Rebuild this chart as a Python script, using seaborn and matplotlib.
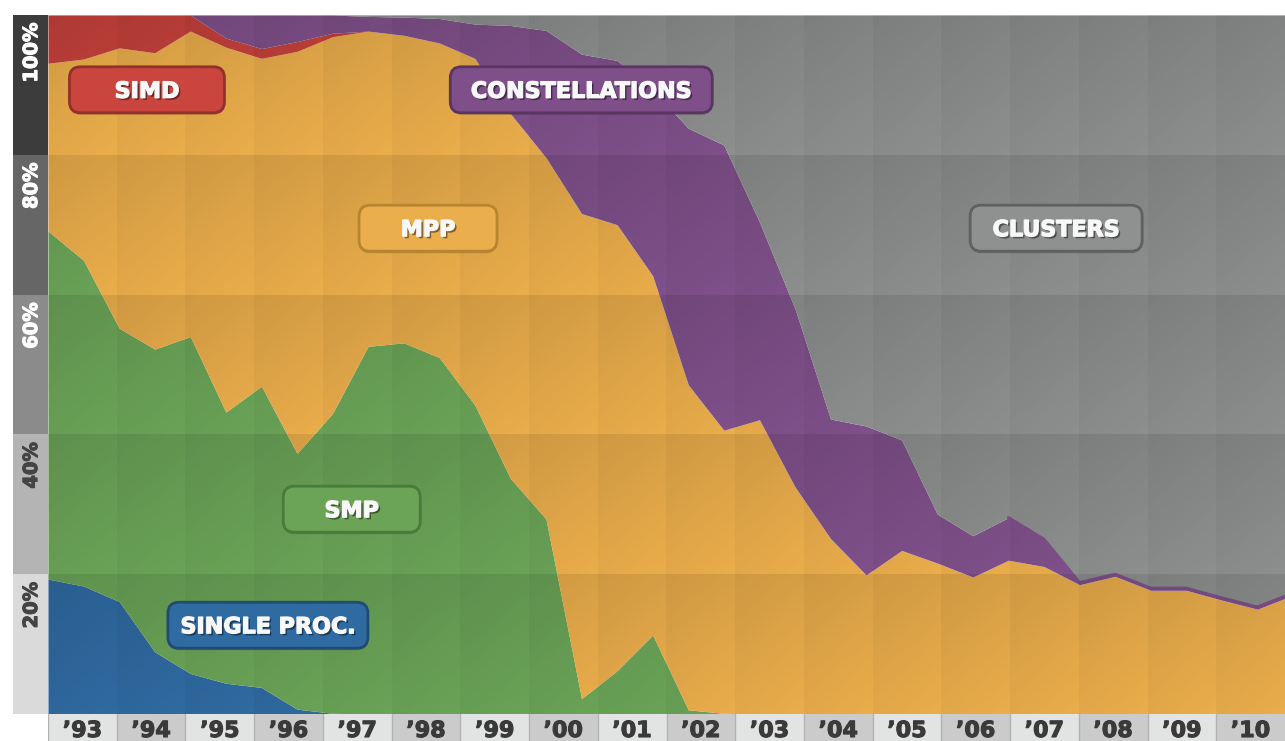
import numpy as np
import matplotlib
matplotlib.use("Agg")
import matplotlib.pyplot as plt
import matplotlib.patheffects as pe
from matplotlib.patches import FancyBboxPatch, Rectangle
from matplotlib.transforms import IdentityTransform
import seaborn as sns

# share of systems (%) per TOP500 list, June 1993 onwards
single_proc = [19.3, 18.3, 16.1, 8.9, 5.8, 4.4, 3.8, 0.7, 0.1, 0, 0, 0,
               0, 0, 0, 0, 0, 0, 0, 0, 0, 0, 0, 0,
               0, 0, 0, 0, 0, 0, 0, 0, 0, 0, 0, 0]
smp = [49.8, 46.6, 39.1, 43.3, 48.2, 38.8, 43.1, 36.6, 42.9, 52.6, 53.1, 51.0,
       44.2, 33.7, 27.9, 2.2, 6.2, 11.3, 0.6, 0.1, 0, 0, 0, 0,
       0, 0, 0, 0, 0, 0, 0, 0, 0, 0, 0, 0]
mpp = [24.0, 28.8, 40.1, 42.4, 43.7, 52.2, 46.9, 57.5, 53.9, 45.1, 44.0, 45.0,
       49.6, 52.2, 51.7, 69.4, 63.8, 51.4, 46.5, 40.5, 42.1, 32.5, 25.1, 19.9,
       23.4, 21.6, 19.6, 22.0, 21.1, 18.5, 19.7, 17.7, 17.7, 16.3, 15.0, 17.0]
simd = [6.9, 6.3, 4.7, 5.4, 2.3, 1.3, 1.4, 1.4, 0.5, 0, 0, 0,
        0, 0, 0, 0, 0, 0, 0, 0, 0, 0, 0, 0,
        0, 0, 0, 0, 0, 0, 0, 0, 0, 0, 0, 0]
constellations = [0, 0, 0, 0, 0, 3.3, 4.8, 3.8, 2.6, 2.1, 2.6, 3.5,
                  4.9, 12.6, 18.2, 22.8, 23.5, 26.6, 36.7, 40.8, 28.3, 25.5, 17.1, 21.3,
                  15.8, 7.0, 5.9, 6.1, 3.9, 0.3, 0.3, 0.3, 0.3, 0.3, 0.3, 0.3]
clusters = [0, 0, 0, 0, 0, 0, 0, 0, 0, 0.2, 0.3, 0.5,
            1.3, 1.5, 2.2, 5.6, 6.5, 10.7, 16.2, 18.6, 29.6, 42.0, 57.8, 58.8,
            60.8, 71.4, 74.5, 71.9, 75.0, 81.2, 80.0, 82.0, 82.0, 83.4, 84.7, 82.7]

years = list(range(1993, 2011))
year_labels = ["\u2019%02d" % (y % 100) for y in years]
pct_labels = ["20%", "40%", "60%", "80%", "100%"]

# list positions along the year axis
list_x = 1993 + np.arange(len(mpp)) * 0.5176

colors = {
    "blue": "#2f6aa1", "green": "#6aa357", "orange": "#eaad4b",
    "red": "#c5413b", "purple": "#7f508a", "gray": "#8d8f8f",
}

sns.set_theme(style="white")
plt.rcParams["font.family"] = ["DejaVu Sans"]

W, H = 1285, 741
fig = plt.figure(figsize=(W / 100, H / 100), dpi=100)
fig.patch.set_facecolor("white")

ax = fig.add_axes([48 / W, 27 / H, 1237 / W, 699 / H])
ax.set_xlim(1993, 2011)
ax.set_ylim(0, 100)
ax.axis("off")

palette = sns.color_palette([colors[c] for c in ["blue", "green", "orange", "red", "purple", "gray"]])
ax.stackplot(list_x, single_proc, smp, mpp, simd, constellations, clusters,
             colors=palette, linewidth=0, zorder=2)

# thin constellations stroke where the share is tiny
const_top = np.cumsum([single_proc, smp, mpp, simd, constellations], axis=0)[-1]
sns.lineplot(x=list_x[27:], y=const_top[27:], color=colors["purple"], lw=2.2, ax=ax, zorder=3)

# shaded grid: each band darker at top, each year column darker at left
cw, ch = 64, 80
fx = (np.arange(cw * len(years)) % cw) / (cw - 1)
fy = (np.arange(ch * 5) % ch) / (ch - 1)
alpha = 0.085 * (1 - fy)[:, None] + 0.035 * (1 - fx)[None, :]
shade = np.zeros(alpha.shape + (4,))
shade[..., 3] = alpha
ax.imshow(shade, extent=(1993, 2011, 0, 100), aspect="auto", interpolation="nearest", zorder=4)

# y strip
ay = fig.add_axes([13 / W, 27 / H, 35 / W, 699 / H])
ay.set_xlim(0, 1)
ay.set_ylim(0, 100)
ay.axis("off")
band_colors = ["#dadada", "#b4b4b4", "#8b8b8b", "#666666", "#3c3c3c"]
text_colors = ["#444444", "#444444", "white", "white", "white"]
for i, lab in enumerate(pct_labels):
    ay.add_patch(Rectangle((0, i * 20), 1, 20, color=band_colors[i], lw=0))
    ay.text(0.53, (i + 1) * 20 - 1.1, lab, rotation=90, ha="center", va="top",
            fontsize=14, fontweight="bold", color=text_colors[i],
            path_effects=[pe.withStroke(linewidth=0.8, foreground=text_colors[i])])

# x strip
axx = fig.add_axes([48 / W, 0, 1237 / W, 27 / H])
axx.set_xlim(1993, 2011)
axx.set_ylim(0, 27)
axx.axis("off")
for i, (yr, lab) in enumerate(zip(years, year_labels)):
    axx.add_patch(Rectangle((yr, 0), 1, 27, color="#e2e3e3" if i % 2 == 0 else "#cbcbcc", lw=0))
    axx.axvline(yr, color="#b3b3b3", lw=1)
    axx.text(yr + 0.5, 20.0, lab, ha="center", va="top", fontsize=16,
             fontweight="bold", color="#3a3a3a",
             path_effects=[pe.withStroke(linewidth=0.8, foreground="#3a3a3a")])


def label_box(text, xc, yc, w_px, face, edge):
    cx, cy = ax.transData.transform((xc, yc))
    h_px = 46
    shadow = FancyBboxPatch((cx - w_px / 2, cy - h_px / 2 - 2), w_px, h_px,
                            boxstyle="round,pad=0,rounding_size=11",
                            transform=IdentityTransform(), facecolor="black",
                            alpha=0.18, lw=0, zorder=5)
    box = FancyBboxPatch((cx - w_px / 2, cy - h_px / 2), w_px, h_px,
                         boxstyle="round,pad=0,rounding_size=11",
                         transform=IdentityTransform(), facecolor=face,
                         edgecolor=edge, lw=2, zorder=6)
    ax.add_patch(shadow)
    ax.add_patch(box)
    ax.text(xc, yc, text, ha="center", va="center_baseline", fontsize=16,
            fontweight="bold", color="#f8f8f8", zorder=7,
            path_effects=[pe.SimplePatchShadow(offset=(1.5, -1.5), shadow_rgbFace="black", alpha=0.45),
                          pe.withStroke(linewidth=0.9, foreground="#f8f8f8")])


label_box("SIMD", 1994.44, 89.3, 155, "#cb453f", "#93302b")
label_box("CONSTELLATIONS", 2000.76, 89.3, 262, "#7e4f89", "#5a3563")
label_box("MPP", 1998.53, 69.5, 138, "#ebae4d", "#b7842f")
label_box("CLUSTERS", 2007.67, 69.5, 172, "#8f9191", "#5f6161")
label_box("SMP", 1997.42, 29.3, 137, "#6ba457", "#4a7a3c")
label_box("SINGLE PROC.", 1996.20, 12.7, 200, "#2f6aa0", "#1f4b75")

fig.savefig("out.png", dpi=100)
